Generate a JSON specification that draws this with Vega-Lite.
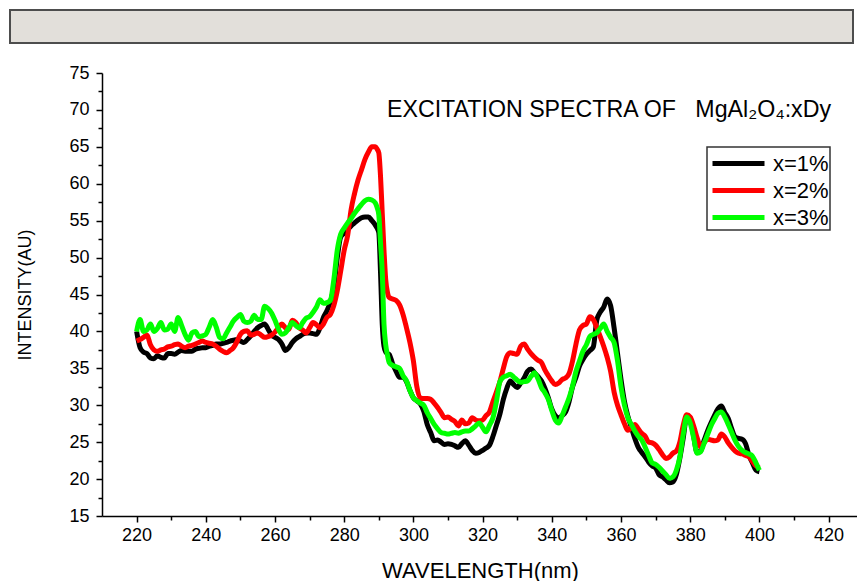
{
  "$schema": "https://vega.github.io/schema/vega-lite/v6.json",
  "background": "white",
  "padding": {"left": 9, "top": 9, "right": 0, "bottom": 0},
  "config": {
    "font": "Liberation Sans",
    "view": {"stroke": null},
    "legend": {"strokeWidth": 1.5}
  },
  "bounds": "flush",
  "spacing": 30,
  "vconcat": [
    {
      "width": 843,
      "height": 33,
      "data": {"values": [{"part": "banner"}]},
      "mark": {"type": "rect", "fill": "#e2dfda", "stroke": "#4d4d4d", "strokeWidth": 2},
      "encoding": {}
    },
    {
      "bounds": "flush",
      "spacing": 0,
      "hconcat": [
        {
          "width": 92,
          "height": 443,
          "data": {"values": [{"part": "spacer"}]},
          "mark": {"type": "point", "opacity": 0},
          "encoding": {}
        },
        {
          "width": 756,
          "height": 443,
          "title": {
            "text": "EXCITATION SPECTRA OF\u00a0\u00a0\u00a0MgAl₂O₄:xDy",
            "anchor": "start",
            "frame": "group",
            "orient": "top",
            "dx": 285,
            "offset": -58,
            "fontSize": 23.2,
            "fontWeight": "normal",
            "color": "black"
          },
          "data": {
            "values": [
              {"wavelength": 220, "x=1%": 40.0, "x=2%": 38.7, "x=3%": 40.0},
              {"wavelength": 221, "x=1%": 37.8, "x=2%": 38.9, "x=3%": 41.6},
              {"wavelength": 222, "x=1%": 37.2, "x=2%": 39.2, "x=3%": 40.0},
              {"wavelength": 223, "x=1%": 37.0, "x=2%": 39.5, "x=3%": 40.2},
              {"wavelength": 224, "x=1%": 36.4, "x=2%": 38.2, "x=3%": 41.0},
              {"wavelength": 225, "x=1%": 36.3, "x=2%": 37.5, "x=3%": 40.0},
              {"wavelength": 226, "x=1%": 36.7, "x=2%": 37.3, "x=3%": 40.4},
              {"wavelength": 227, "x=1%": 36.5, "x=2%": 37.5, "x=3%": 41.2},
              {"wavelength": 228, "x=1%": 36.4, "x=2%": 37.6, "x=3%": 40.2},
              {"wavelength": 229, "x=1%": 37.0, "x=2%": 37.9, "x=3%": 40.3},
              {"wavelength": 230, "x=1%": 37.0, "x=2%": 38.0, "x=3%": 41.0},
              {"wavelength": 231, "x=1%": 36.9, "x=2%": 38.2, "x=3%": 40.0},
              {"wavelength": 232, "x=1%": 37.2, "x=2%": 38.3, "x=3%": 41.9},
              {"wavelength": 233, "x=1%": 37.4, "x=2%": 38.0, "x=3%": 40.8},
              {"wavelength": 234, "x=1%": 37.3, "x=2%": 37.8, "x=3%": 39.6},
              {"wavelength": 235, "x=1%": 37.3, "x=2%": 38.0, "x=3%": 38.8},
              {"wavelength": 236, "x=1%": 37.3, "x=2%": 38.1, "x=3%": 39.8},
              {"wavelength": 237, "x=1%": 37.6, "x=2%": 38.3, "x=3%": 40.0},
              {"wavelength": 238, "x=1%": 37.7, "x=2%": 38.5, "x=3%": 39.3},
              {"wavelength": 239, "x=1%": 37.8, "x=2%": 38.7, "x=3%": 39.4},
              {"wavelength": 240, "x=1%": 37.8, "x=2%": 38.5, "x=3%": 39.6},
              {"wavelength": 241, "x=1%": 38.0, "x=2%": 38.4, "x=3%": 40.6},
              {"wavelength": 242, "x=1%": 38.1, "x=2%": 38.3, "x=3%": 41.6},
              {"wavelength": 243, "x=1%": 38.3, "x=2%": 38.0, "x=3%": 40.6},
              {"wavelength": 244, "x=1%": 38.3, "x=2%": 37.6, "x=3%": 39.2},
              {"wavelength": 245, "x=1%": 38.4, "x=2%": 37.3, "x=3%": 39.0},
              {"wavelength": 246, "x=1%": 38.5, "x=2%": 37.1, "x=3%": 39.8},
              {"wavelength": 247, "x=1%": 38.7, "x=2%": 37.4, "x=3%": 40.6},
              {"wavelength": 248, "x=1%": 38.8, "x=2%": 37.8, "x=3%": 41.4},
              {"wavelength": 249, "x=1%": 38.9, "x=2%": 38.6, "x=3%": 41.9},
              {"wavelength": 250, "x=1%": 38.7, "x=2%": 39.6, "x=3%": 42.3},
              {"wavelength": 251, "x=1%": 38.5, "x=2%": 40.0, "x=3%": 41.4},
              {"wavelength": 252, "x=1%": 38.9, "x=2%": 40.1, "x=3%": 41.2},
              {"wavelength": 253, "x=1%": 39.4, "x=2%": 39.5, "x=3%": 41.4},
              {"wavelength": 254, "x=1%": 40.0, "x=2%": 39.6, "x=3%": 42.2},
              {"wavelength": 255, "x=1%": 40.5, "x=2%": 39.8, "x=3%": 41.6},
              {"wavelength": 256, "x=1%": 40.8, "x=2%": 39.5, "x=3%": 41.6},
              {"wavelength": 257, "x=1%": 41.0, "x=2%": 39.2, "x=3%": 43.4},
              {"wavelength": 258, "x=1%": 40.3, "x=2%": 39.3, "x=3%": 43.1},
              {"wavelength": 259, "x=1%": 39.5, "x=2%": 39.5, "x=3%": 42.5},
              {"wavelength": 260, "x=1%": 39.2, "x=2%": 39.9, "x=3%": 41.5},
              {"wavelength": 261, "x=1%": 38.9, "x=2%": 40.5, "x=3%": 40.3},
              {"wavelength": 262, "x=1%": 38.3, "x=2%": 41.0, "x=3%": 39.6},
              {"wavelength": 263, "x=1%": 37.4, "x=2%": 40.5, "x=3%": 39.8},
              {"wavelength": 264, "x=1%": 37.8, "x=2%": 40.3, "x=3%": 40.5},
              {"wavelength": 265, "x=1%": 38.5, "x=2%": 41.5, "x=3%": 41.2},
              {"wavelength": 266, "x=1%": 39.0, "x=2%": 41.2, "x=3%": 40.8},
              {"wavelength": 267, "x=1%": 39.3, "x=2%": 40.5, "x=3%": 40.5},
              {"wavelength": 268, "x=1%": 39.6, "x=2%": 40.2, "x=3%": 41.2},
              {"wavelength": 269, "x=1%": 39.8, "x=2%": 39.8, "x=3%": 41.8},
              {"wavelength": 270, "x=1%": 39.8, "x=2%": 40.5, "x=3%": 42.0},
              {"wavelength": 271, "x=1%": 39.7, "x=2%": 41.2, "x=3%": 42.6},
              {"wavelength": 272, "x=1%": 39.6, "x=2%": 40.9, "x=3%": 43.3},
              {"wavelength": 273, "x=1%": 40.5, "x=2%": 40.5, "x=3%": 44.3},
              {"wavelength": 274, "x=1%": 41.9, "x=2%": 41.0, "x=3%": 43.8},
              {"wavelength": 275, "x=1%": 42.8, "x=2%": 41.9, "x=3%": 43.9},
              {"wavelength": 276, "x=1%": 44.0, "x=2%": 42.3, "x=3%": 44.2},
              {"wavelength": 277, "x=1%": 46.0, "x=2%": 43.5, "x=3%": 47.0},
              {"wavelength": 278, "x=1%": 50.0, "x=2%": 45.5, "x=3%": 51.0},
              {"wavelength": 279, "x=1%": 52.8, "x=2%": 48.2, "x=3%": 53.2},
              {"wavelength": 280, "x=1%": 53.3, "x=2%": 51.0, "x=3%": 54.0},
              {"wavelength": 281, "x=1%": 53.8, "x=2%": 53.0, "x=3%": 54.7},
              {"wavelength": 282, "x=1%": 54.3, "x=2%": 56.5, "x=3%": 55.3},
              {"wavelength": 283, "x=1%": 54.7, "x=2%": 58.7, "x=3%": 56.0},
              {"wavelength": 284, "x=1%": 55.1, "x=2%": 60.5, "x=3%": 56.6},
              {"wavelength": 285, "x=1%": 55.4, "x=2%": 61.9, "x=3%": 57.2},
              {"wavelength": 286, "x=1%": 55.5, "x=2%": 63.3, "x=3%": 57.7},
              {"wavelength": 287, "x=1%": 55.5, "x=2%": 64.3, "x=3%": 57.9},
              {"wavelength": 288, "x=1%": 55.0, "x=2%": 65.0, "x=3%": 57.8},
              {"wavelength": 289, "x=1%": 54.4, "x=2%": 65.0, "x=3%": 57.4},
              {"wavelength": 289.5, "x=1%": 54.0, "x=2%": 64.7, "x=3%": 56.8},
              {"wavelength": 290, "x=1%": 53.4, "x=2%": 64.2, "x=3%": 55.8},
              {"wavelength": 290.5, "x=1%": 48.0, "x=2%": 61.0, "x=3%": 52.0},
              {"wavelength": 291, "x=1%": 41.0, "x=2%": 56.0, "x=3%": 48.0},
              {"wavelength": 291.5, "x=1%": 38.0, "x=2%": 51.0, "x=3%": 41.0},
              {"wavelength": 292, "x=1%": 37.2, "x=2%": 47.0, "x=3%": 38.2},
              {"wavelength": 292.5, "x=1%": 37.0, "x=2%": 45.3, "x=3%": 36.8},
              {"wavelength": 293, "x=1%": 36.9, "x=2%": 44.6, "x=3%": 35.8},
              {"wavelength": 294, "x=1%": 35.6, "x=2%": 44.4, "x=3%": 35.4},
              {"wavelength": 295, "x=1%": 34.6, "x=2%": 44.2, "x=3%": 35.2},
              {"wavelength": 296, "x=1%": 33.8, "x=2%": 43.6, "x=3%": 35.0},
              {"wavelength": 297, "x=1%": 33.8, "x=2%": 42.3, "x=3%": 34.0},
              {"wavelength": 298, "x=1%": 33.2, "x=2%": 40.5, "x=3%": 33.3},
              {"wavelength": 299, "x=1%": 32.0, "x=2%": 38.5, "x=3%": 32.0},
              {"wavelength": 300, "x=1%": 31.0, "x=2%": 36.0, "x=3%": 31.0},
              {"wavelength": 301, "x=1%": 30.6, "x=2%": 32.5, "x=3%": 30.6},
              {"wavelength": 302, "x=1%": 30.2, "x=2%": 31.0, "x=3%": 30.3},
              {"wavelength": 303, "x=1%": 29.2, "x=2%": 30.9, "x=3%": 30.0},
              {"wavelength": 304, "x=1%": 27.4, "x=2%": 30.9, "x=3%": 29.0},
              {"wavelength": 305, "x=1%": 26.3, "x=2%": 30.8, "x=3%": 28.2},
              {"wavelength": 306, "x=1%": 25.2, "x=2%": 30.3, "x=3%": 27.4},
              {"wavelength": 307, "x=1%": 25.3, "x=2%": 29.7, "x=3%": 26.8},
              {"wavelength": 308, "x=1%": 25.0, "x=2%": 29.0, "x=3%": 26.3},
              {"wavelength": 309, "x=1%": 24.7, "x=2%": 28.3, "x=3%": 26.2},
              {"wavelength": 310, "x=1%": 24.8, "x=2%": 28.4, "x=3%": 26.1},
              {"wavelength": 311, "x=1%": 24.7, "x=2%": 28.1, "x=3%": 26.2},
              {"wavelength": 312, "x=1%": 24.5, "x=2%": 27.8, "x=3%": 26.3},
              {"wavelength": 313, "x=1%": 24.3, "x=2%": 27.2, "x=3%": 26.2},
              {"wavelength": 314, "x=1%": 24.8, "x=2%": 28.0, "x=3%": 26.4},
              {"wavelength": 315, "x=1%": 25.2, "x=2%": 27.5, "x=3%": 26.5},
              {"wavelength": 316, "x=1%": 24.6, "x=2%": 27.6, "x=3%": 26.5},
              {"wavelength": 317, "x=1%": 23.9, "x=2%": 28.3, "x=3%": 26.8},
              {"wavelength": 318, "x=1%": 23.5, "x=2%": 28.0, "x=3%": 27.2},
              {"wavelength": 319, "x=1%": 23.6, "x=2%": 27.9, "x=3%": 27.6},
              {"wavelength": 320, "x=1%": 23.9, "x=2%": 28.0, "x=3%": 27.0},
              {"wavelength": 321, "x=1%": 24.2, "x=2%": 28.6, "x=3%": 26.4},
              {"wavelength": 322, "x=1%": 24.6, "x=2%": 29.1, "x=3%": 27.3},
              {"wavelength": 323, "x=1%": 25.8, "x=2%": 30.5, "x=3%": 28.3},
              {"wavelength": 324, "x=1%": 27.3, "x=2%": 31.8, "x=3%": 30.5},
              {"wavelength": 325, "x=1%": 28.8, "x=2%": 33.2, "x=3%": 33.2},
              {"wavelength": 326, "x=1%": 30.8, "x=2%": 35.0, "x=3%": 33.8},
              {"wavelength": 327, "x=1%": 32.3, "x=2%": 36.6, "x=3%": 34.0},
              {"wavelength": 328, "x=1%": 33.3, "x=2%": 37.1, "x=3%": 34.2},
              {"wavelength": 329, "x=1%": 32.8, "x=2%": 37.0, "x=3%": 33.8},
              {"wavelength": 330, "x=1%": 32.4, "x=2%": 36.9, "x=3%": 33.4},
              {"wavelength": 331, "x=1%": 33.0, "x=2%": 38.0, "x=3%": 33.1},
              {"wavelength": 332, "x=1%": 33.7, "x=2%": 38.3, "x=3%": 33.2},
              {"wavelength": 333, "x=1%": 34.6, "x=2%": 37.6, "x=3%": 33.3},
              {"wavelength": 334, "x=1%": 34.9, "x=2%": 37.0, "x=3%": 33.9},
              {"wavelength": 335, "x=1%": 34.4, "x=2%": 36.5, "x=3%": 34.4},
              {"wavelength": 336, "x=1%": 33.9, "x=2%": 36.1, "x=3%": 33.6},
              {"wavelength": 337, "x=1%": 33.3, "x=2%": 35.8, "x=3%": 32.4},
              {"wavelength": 338, "x=1%": 32.3, "x=2%": 34.8, "x=3%": 31.7},
              {"wavelength": 339, "x=1%": 31.0, "x=2%": 34.0, "x=3%": 30.8},
              {"wavelength": 340, "x=1%": 29.5, "x=2%": 33.3, "x=3%": 29.3},
              {"wavelength": 341, "x=1%": 28.6, "x=2%": 32.8, "x=3%": 28.0},
              {"wavelength": 342, "x=1%": 28.3, "x=2%": 33.0, "x=3%": 27.6},
              {"wavelength": 343, "x=1%": 28.6, "x=2%": 33.5, "x=3%": 28.6},
              {"wavelength": 344, "x=1%": 29.1, "x=2%": 33.7, "x=3%": 29.8},
              {"wavelength": 345, "x=1%": 30.5, "x=2%": 34.3, "x=3%": 31.0},
              {"wavelength": 346, "x=1%": 32.5, "x=2%": 36.0, "x=3%": 32.6},
              {"wavelength": 347, "x=1%": 33.8, "x=2%": 38.3, "x=3%": 34.6},
              {"wavelength": 348, "x=1%": 35.3, "x=2%": 40.2, "x=3%": 36.0},
              {"wavelength": 349, "x=1%": 36.2, "x=2%": 40.8, "x=3%": 37.3},
              {"wavelength": 350, "x=1%": 36.9, "x=2%": 41.0, "x=3%": 38.2},
              {"wavelength": 351, "x=1%": 37.4, "x=2%": 42.0, "x=3%": 39.3},
              {"wavelength": 352, "x=1%": 37.9, "x=2%": 41.6, "x=3%": 39.6},
              {"wavelength": 353, "x=1%": 41.5, "x=2%": 40.5, "x=3%": 39.8},
              {"wavelength": 354, "x=1%": 42.6, "x=2%": 39.3, "x=3%": 40.4},
              {"wavelength": 355, "x=1%": 43.3, "x=2%": 38.0, "x=3%": 41.0},
              {"wavelength": 356, "x=1%": 44.4, "x=2%": 36.5, "x=3%": 40.0},
              {"wavelength": 357, "x=1%": 43.5, "x=2%": 34.6, "x=3%": 39.2},
              {"wavelength": 358, "x=1%": 40.5, "x=2%": 31.8, "x=3%": 38.5},
              {"wavelength": 359, "x=1%": 37.0, "x=2%": 30.0, "x=3%": 36.0},
              {"wavelength": 360, "x=1%": 33.5, "x=2%": 28.7, "x=3%": 32.5},
              {"wavelength": 361, "x=1%": 30.5, "x=2%": 27.5, "x=3%": 30.0},
              {"wavelength": 362, "x=1%": 28.5, "x=2%": 26.6, "x=3%": 28.3},
              {"wavelength": 363, "x=1%": 27.0, "x=2%": 27.0, "x=3%": 27.4},
              {"wavelength": 364, "x=1%": 25.5, "x=2%": 27.4, "x=3%": 26.5},
              {"wavelength": 365, "x=1%": 24.3, "x=2%": 26.8, "x=3%": 25.8},
              {"wavelength": 366, "x=1%": 23.6, "x=2%": 26.2, "x=3%": 25.3},
              {"wavelength": 367, "x=1%": 23.0, "x=2%": 25.8, "x=3%": 24.3},
              {"wavelength": 368, "x=1%": 22.3, "x=2%": 25.0, "x=3%": 23.2},
              {"wavelength": 369, "x=1%": 21.8, "x=2%": 24.9, "x=3%": 22.2},
              {"wavelength": 370, "x=1%": 21.5, "x=2%": 24.6, "x=3%": 22.0},
              {"wavelength": 371, "x=1%": 20.6, "x=2%": 24.0, "x=3%": 21.6},
              {"wavelength": 372, "x=1%": 20.3, "x=2%": 23.3, "x=3%": 21.1},
              {"wavelength": 373, "x=1%": 19.9, "x=2%": 22.8, "x=3%": 20.6},
              {"wavelength": 374, "x=1%": 19.5, "x=2%": 23.0, "x=3%": 20.1},
              {"wavelength": 375, "x=1%": 19.6, "x=2%": 23.5, "x=3%": 20.3},
              {"wavelength": 376, "x=1%": 20.6, "x=2%": 23.8, "x=3%": 21.2},
              {"wavelength": 377, "x=1%": 22.8, "x=2%": 25.0, "x=3%": 23.0},
              {"wavelength": 378, "x=1%": 25.6, "x=2%": 27.3, "x=3%": 26.1},
              {"wavelength": 379, "x=1%": 28.5, "x=2%": 28.7, "x=3%": 28.4},
              {"wavelength": 380, "x=1%": 28.3, "x=2%": 28.4, "x=3%": 27.6},
              {"wavelength": 381, "x=1%": 25.8, "x=2%": 27.2, "x=3%": 25.6},
              {"wavelength": 382, "x=1%": 23.6, "x=2%": 25.6, "x=3%": 23.5},
              {"wavelength": 383, "x=1%": 23.8, "x=2%": 24.4, "x=3%": 23.7},
              {"wavelength": 384, "x=1%": 25.2, "x=2%": 24.9, "x=3%": 24.8},
              {"wavelength": 385, "x=1%": 26.5, "x=2%": 25.4, "x=3%": 26.0},
              {"wavelength": 386, "x=1%": 27.6, "x=2%": 25.3, "x=3%": 27.2},
              {"wavelength": 387, "x=1%": 28.6, "x=2%": 25.2, "x=3%": 28.1},
              {"wavelength": 388, "x=1%": 29.5, "x=2%": 25.3, "x=3%": 28.9},
              {"wavelength": 389, "x=1%": 29.9, "x=2%": 26.1, "x=3%": 29.1},
              {"wavelength": 390, "x=1%": 29.0, "x=2%": 25.7, "x=3%": 28.4},
              {"wavelength": 391, "x=1%": 28.2, "x=2%": 24.9, "x=3%": 27.4},
              {"wavelength": 392, "x=1%": 26.8, "x=2%": 24.3, "x=3%": 26.3},
              {"wavelength": 393, "x=1%": 25.7, "x=2%": 23.8, "x=3%": 25.2},
              {"wavelength": 394, "x=1%": 25.5, "x=2%": 23.5, "x=3%": 24.4},
              {"wavelength": 395, "x=1%": 25.4, "x=2%": 23.4, "x=3%": 23.9},
              {"wavelength": 396, "x=1%": 24.8, "x=2%": 23.2, "x=3%": 23.6},
              {"wavelength": 397, "x=1%": 23.2, "x=2%": 23.0, "x=3%": 23.4},
              {"wavelength": 398, "x=1%": 22.2, "x=2%": 22.4, "x=3%": 23.1},
              {"wavelength": 399, "x=1%": 21.2, "x=2%": 21.8, "x=3%": 22.2},
              {"wavelength": 400, "x=1%": 21.0, "x=2%": 21.5, "x=3%": 21.2}
            ]
          },
          "transform": [{"fold": ["x=1%", "x=2%", "x=3%"], "as": ["series", "intensity"]}],
          "layer": [
            {
              "mark": {"type": "point", "opacity": 0},
              "encoding": {
                "x": {
                  "field": "wavelength", "type": "quantitative",
                  "scale": {"domain": [210, 428.5], "nice": false, "zero": false},
                  "axis": {
                    "orient": "bottom", "values": [230, 250, 270, 290, 310, 330, 350, 370, 390, 410],
                    "labels": false, "domain": false, "grid": false, "title": null,
                    "tickSize": 4, "tickWidth": 1.5, "tickColor": "black"
                  }
                },
                "y": {
                  "field": "intensity", "type": "quantitative",
                  "scale": {"domain": [15, 75], "nice": false, "zero": false},
                  "axis": {
                    "orient": "left", "values": [17.5, 22.5, 27.5, 32.5, 37.5, 42.5, 47.5, 52.5, 57.5, 62.5, 67.5, 72.5],
                    "labels": false, "domain": false, "grid": false, "title": null,
                    "tickSize": 4, "tickWidth": 1.5, "tickColor": "black"
                  }
                }
              }
            },
            {
              "mark": {"type": "line", "strokeWidth": 5, "interpolate": "monotone", "strokeJoin": "round"},
              "encoding": {
                "x": {
                  "field": "wavelength", "type": "quantitative",
                  "scale": {"domain": [210, 428.5], "nice": false, "zero": false},
                  "axis": {
                    "orient": "bottom", "values": [220, 240, 260, 280, 300, 320, 340, 360, 380, 400, 420],
                    "title": "WAVELENGTH(nm)", "grid": false,
                    "domainColor": "black", "domainWidth": 1.5,
                    "tickColor": "black", "tickWidth": 1.5, "tickSize": 6,
                    "labelFontSize": 18, "labelColor": "black", "labelPadding": 4,
                    "titleFontSize": 22, "titleFontWeight": "normal", "titleColor": "black", "titlePadding": 16
                  }
                },
                "y": {
                  "field": "intensity", "type": "quantitative",
                  "scale": {"domain": [15, 75], "nice": false, "zero": false},
                  "axis": {
                    "orient": "left", "values": [15, 20, 25, 30, 35, 40, 45, 50, 55, 60, 65, 70, 75],
                    "title": "INTENSITY(AU)", "grid": false,
                    "domainColor": "black", "domainWidth": 1.5,
                    "tickColor": "black", "tickWidth": 1.5, "tickSize": 6,
                    "labelFontSize": 18, "labelColor": "black", "labelPadding": 7,
                    "titleFontSize": 18, "titleFontWeight": "normal", "titleColor": "black", "titlePadding": 34
                  }
                },
                "color": {
                  "field": "series", "type": "nominal",
                  "scale": {"domain": ["x=1%", "x=2%", "x=3%"], "range": ["#000000", "#ff0000", "#00ff00"]},
                  "legend": {
                    "orient": "none", "legendX": 697, "legendY": 137,
                    "title": null, "strokeColor": "#333333", "fillColor": "white",
                    "padding": 1, "rowPadding": 0,
                    "symbolType": "M-2,0H2", "symbolSize": 676, "symbolStrokeWidth": 5, "symbolOffset": 15,
                    "labelFontSize": 22, "labelColor": "black", "labelOffset": 19
                  }
                }
              }
            }
          ],
          "resolve": {"axis": {"x": "independent", "y": "independent"}}
        }
      ]
    }
  ]
}
